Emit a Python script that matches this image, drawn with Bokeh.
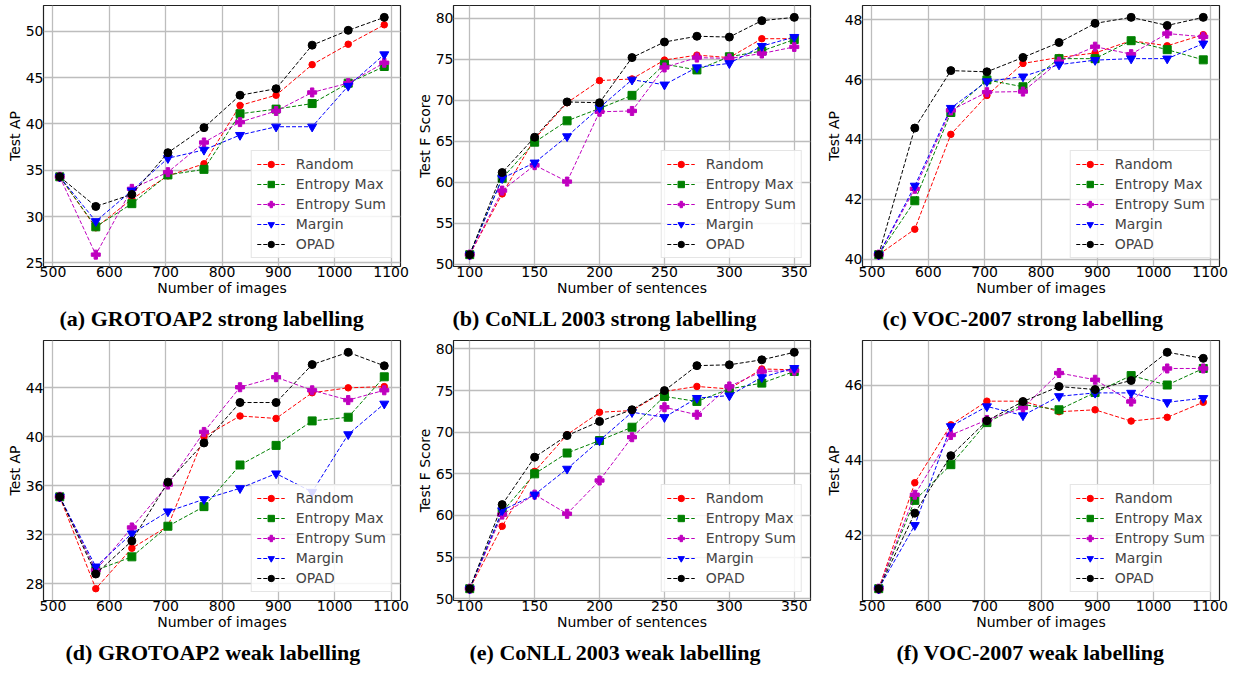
from bokeh.plotting import figure
from bokeh.models import Range1d, FixedTicker, Legend, LegendItem, Title
from bokeh.layouts import row, column
from bokeh.embed import file_html
from bokeh.resources import INLINE

# ---------------- data ----------------
methods = ["Random", "Entropy Max", "Entropy Sum", "Margin", "OPAD"]

x_images = [512, 576, 640, 704, 768, 832, 896, 960, 1024, 1088]
x_sentences = [100, 125, 150, 175, 200, 225, 250, 275, 300, 325, 350]

ticks_images = [500, 600, 700, 800, 900, 1000, 1100]
ticks_sentences = [100, 150, 200, 250, 300, 350]

# (a) GROTOAP2 strong labelling
grot_strong_random = [34.3, 28.8, 31.9, 34.4, 35.7, 42.0, 43.1, 46.4, 48.6, 50.7]
grot_strong_entmax = [34.3, 28.9, 31.4, 34.5, 35.1, 41.1, 41.6, 42.2, 44.4, 46.2]
grot_strong_entsum = [34.3, 25.9, 33.0, 34.8, 38.0, 40.2, 41.4, 43.4, 44.4, 46.6]
grot_strong_margin = [34.3, 29.5, 32.8, 36.3, 37.2, 38.8, 39.7, 39.7, 44.1, 47.5]
grot_strong_opad = [34.3, 31.1, 32.4, 36.9, 39.6, 43.1, 43.8, 48.5, 50.1, 51.5]
grot_strong_yticks = [25, 30, 35, 40, 45, 50]

# (b) CoNLL 2003 strong labelling
conll_strong_random = [51.2, 58.6, 65.3, 69.7, 72.4, 72.6, 74.9, 75.5, 75.2, 77.5, 77.5]
conll_strong_entmax = [51.2, 60.5, 64.9, 67.5, 69.0, 70.6, 74.4, 73.7, 75.3, 76.0, 77.4]
conll_strong_entsum = [51.2, 59.0, 62.1, 60.1, 68.6, 68.7, 74.0, 75.2, 75.1, 75.7, 76.5]
conll_strong_margin = [51.2, 60.5, 62.4, 65.6, 69.1, 72.5, 71.9, 74.0, 74.5, 76.6, 77.7]
conll_strong_opad = [51.2, 61.2, 65.5, 69.8, 69.7, 75.2, 77.1, 77.8, 77.7, 79.7, 80.1]
conll_strong_yticks = [50, 55, 60, 65, 70, 75, 80]

# (c) VOC-2007 strong labelling
voc_strong_random = [40.15, 41.0, 44.17, 45.47, 46.54, 46.74, 46.89, 47.3, 47.13, 47.5]
voc_strong_entmax = [40.15, 41.95, 44.9, 45.99, 45.76, 46.7, 46.7, 47.3, 47.0, 46.66]
voc_strong_entsum = [40.15, 42.35, 44.97, 45.58, 45.6, 46.6, 47.1, 46.85, 47.54, 47.43]
voc_strong_margin = [40.15, 42.45, 45.05, 45.94, 46.1, 46.5, 46.65, 46.7, 46.7, 47.2]
voc_strong_opad = [40.15, 44.38, 46.3, 46.26, 46.74, 47.24, 47.88, 48.08, 47.81, 48.08]
voc_strong_yticks = [40, 42, 44, 46, 48]

# (d) GROTOAP2 weak labelling
grot_weak_random = [35.1, 27.6, 30.9, 32.7, 40.0, 41.7, 41.5, 43.6, 44.0, 44.1]
grot_weak_entmax = [35.1, 29.1, 30.2, 32.7, 34.3, 37.7, 39.3, 41.3, 41.6, 44.9]
grot_weak_entsum = [35.1, 29.1, 32.6, 36.1, 40.4, 44.05, 44.87, 43.8, 43.0, 43.8]
grot_weak_margin = [35.1, 29.4, 32.1, 33.9, 34.9, 35.8, 37.0, 35.5, 40.2, 42.7]
grot_weak_opad = [35.1, 28.8, 31.5, 36.3, 39.5, 42.8, 42.8, 45.9, 46.9, 45.8]
grot_weak_yticks = [28, 32, 36, 40, 44]

# (e) CoNLL 2003 weak labelling
conll_weak_random = [51.2, 58.7, 65.3, 69.7, 72.4, 72.6, 74.9, 75.5, 75.2, 77.6, 77.5]
conll_weak_entmax = [51.2, 60.4, 65.0, 67.5, 69.0, 70.6, 74.3, 73.7, 75.2, 75.9, 77.3]
conll_weak_entsum = [51.2, 60.1, 62.5, 60.2, 64.2, 69.4, 73.0, 72.1, 75.5, 77.3, 77.4]
conll_weak_margin = [51.2, 60.6, 62.5, 65.6, 69.0, 72.4, 71.8, 74.1, 74.4, 76.6, 77.7]
conll_weak_opad = [51.2, 61.3, 67.0, 69.6, 71.3, 72.7, 75.0, 78.0, 78.1, 78.7, 79.6]
conll_weak_yticks = [50, 55, 60, 65, 70, 75, 80]

# (f) VOC-2007 weak labelling
voc_weak_random = [40.58, 43.4, 44.94, 45.57, 45.57, 45.29, 45.34, 45.04, 45.14, 45.54]
voc_weak_entmax = [40.58, 42.93, 43.88, 45.0, 45.48, 45.34, 45.8, 46.25, 46.0, 46.44]
voc_weak_entsum = [40.58, 43.08, 44.67, 45.07, 45.39, 46.32, 46.14, 45.56, 46.44, 46.44]
voc_weak_margin = [40.58, 42.27, 44.9, 45.43, 45.19, 45.7, 45.79, 45.79, 45.54, 45.65]
voc_weak_opad = [40.58, 42.59, 44.12, 45.05, 45.56, 45.96, 45.88, 46.12, 46.87, 46.71]
voc_weak_yticks = [42, 44, 46]

captions = [
    "(a) GROTOAP2 strong labelling",
    "(b) CoNLL 2003 strong labelling",
    "(c) VOC-2007 strong labelling",
    "(d) GROTOAP2 weak labelling",
    "(e) CoNLL 2003 weak labelling",
    "(f) VOC-2007 weak labelling",
]

# ---------------- styles ----------------
COLORS = ["#ff0000", "#008000", "#bf00bf", "#0000ff", "#000000"]
MARKERS = ["circle", "square", "plus", "inverted_triangle", "circle"]
MSIZES = [6.5, 8, 9, 9, 8]
FONT = "DejaVu Sans"
FS = "14px"


def padded(vals, frac=0.05):
    lo, hi = min(vals), max(vals)
    span = hi - lo
    return Range1d(lo - frac * span, hi + frac * span)


def make_panel(x, series, xticks, yticks, xlabel, ylabel, caption, cap_offset,
               width, height, mbl, mbr, mbt, mbb):
    ally = [v for s in series for v in s]
    p = figure(width=width, height=height, output_backend="svg",
               toolbar_location=None, x_range=padded(x), y_range=padded(ally),
               min_border_left=mbl, min_border_right=mbr,
               min_border_top=mbt, min_border_bottom=mbb)
    p.outline_line_color = "#222222"
    p.outline_line_width = 1.2
    p.background_fill_color = "white"
    p.border_fill_color = "white"

    for ax in (p.xaxis[0], p.yaxis[0]):
        ax.axis_line_color = None
        ax.major_tick_out = 0
        ax.major_tick_in = 0
        ax.minor_tick_out = 0
        ax.minor_tick_in = 0
        ax.major_label_text_font = FONT
        ax.major_label_text_font_size = FS
        ax.major_label_text_color = "black"
        ax.axis_label_text_font = FONT
        ax.axis_label_text_font_size = FS
        ax.axis_label_text_font_style = "normal"
        ax.axis_label_text_color = "black"
        ax.major_label_standoff = 0
        ax.axis_label_standoff = 0
    p.xaxis.ticker = FixedTicker(ticks=xticks)
    p.yaxis.ticker = FixedTicker(ticks=yticks)
    p.xaxis.axis_label = xlabel
    p.yaxis.axis_label = ylabel

    for g in p.grid:
        g.grid_line_color = "#bdbdbd"
        g.grid_line_width = 1.3
    p.xgrid.ticker = FixedTicker(ticks=xticks)
    p.ygrid.ticker = FixedTicker(ticks=yticks)

    items = []
    for name, ys, c, m, s in zip(methods, series, COLORS, MARKERS, MSIZES):
        lr = p.line(x, ys, line_color=c, line_width=1.0, line_dash="4 2")
        sr = p.scatter(x, ys, marker=m, size=s, fill_color=c, line_color=c)
        items.append(LegendItem(label=name, renderers=[lr, sr]))

    leg = Legend(items=items, location="bottom_right",
                 label_text_font=FONT, label_text_font_size=FS,
                 glyph_width=28, glyph_height=16, label_height=16,
                 label_standoff=11, spacing=4, padding=5, margin=8,
                 border_line_color="#cccccc", border_line_width=1,
                 background_fill_color="white", background_fill_alpha=0.85)
    p.add_layout(leg)

    t = Title(text=caption, align="left", offset=cap_offset,
              text_font="Liberation Serif", text_font_size="22px",
              text_font_style="bold", text_color="black", standoff=11)
    p.add_layout(t, "below")
    return p


W = [410, 409, 421]
MBL = [43, 43, 43]
MBR = [10, 9, 21]
H1, H2 = 336, 336
cap_off_top = [16, -1, 20]
cap_off_bot = [22, 16, 34]

p1 = make_panel(x_images, [grot_strong_random, grot_strong_entmax, grot_strong_entsum, grot_strong_margin, grot_strong_opad],
                ticks_images, grot_strong_yticks, "Number of images", "Test AP", captions[0], cap_off_top[0],
                W[0], H1, MBL[0], MBR[0], 5, 69)
p2 = make_panel(x_sentences, [conll_strong_random, conll_strong_entmax, conll_strong_entsum, conll_strong_margin, conll_strong_opad],
                ticks_sentences, conll_strong_yticks, "Number of sentences", "Test F Score", captions[1], cap_off_top[1],
                W[1], H1, MBL[1], MBR[1], 5, 69)
p3 = make_panel(x_images, [voc_strong_random, voc_strong_entmax, voc_strong_entsum, voc_strong_margin, voc_strong_opad],
                ticks_images, voc_strong_yticks, "Number of images", "Test AP", captions[2], cap_off_top[2],
                W[2], H1, MBL[2], MBR[2], 5, 69)
p4 = make_panel(x_images, [grot_weak_random, grot_weak_entmax, grot_weak_entsum, grot_weak_margin, grot_weak_opad],
                ticks_images, grot_weak_yticks, "Number of images", "Test AP", captions[3], cap_off_bot[0],
                W[0], H2, MBL[0], MBR[0], 4, 72)
p5 = make_panel(x_sentences, [conll_weak_random, conll_weak_entmax, conll_weak_entsum, conll_weak_margin, conll_weak_opad],
                ticks_sentences, conll_weak_yticks, "Number of sentences", "Test F Score", captions[4], cap_off_bot[1],
                W[1], H2, MBL[1], MBR[1], 4, 72)
p6 = make_panel(x_images, [voc_weak_random, voc_weak_entmax, voc_weak_entsum, voc_weak_margin, voc_weak_opad],
                ticks_images, voc_weak_yticks, "Number of images", "Test AP", captions[5], cap_off_bot[2],
                W[2], H2, MBL[2], MBR[2], 4, 72)

layout = column(row(p1, p2, p3, spacing=0), row(p4, p5, p6, spacing=0), spacing=0)

with open("out.html", "w") as f:
    f.write(file_html(layout, INLINE, "Active learning results"))
